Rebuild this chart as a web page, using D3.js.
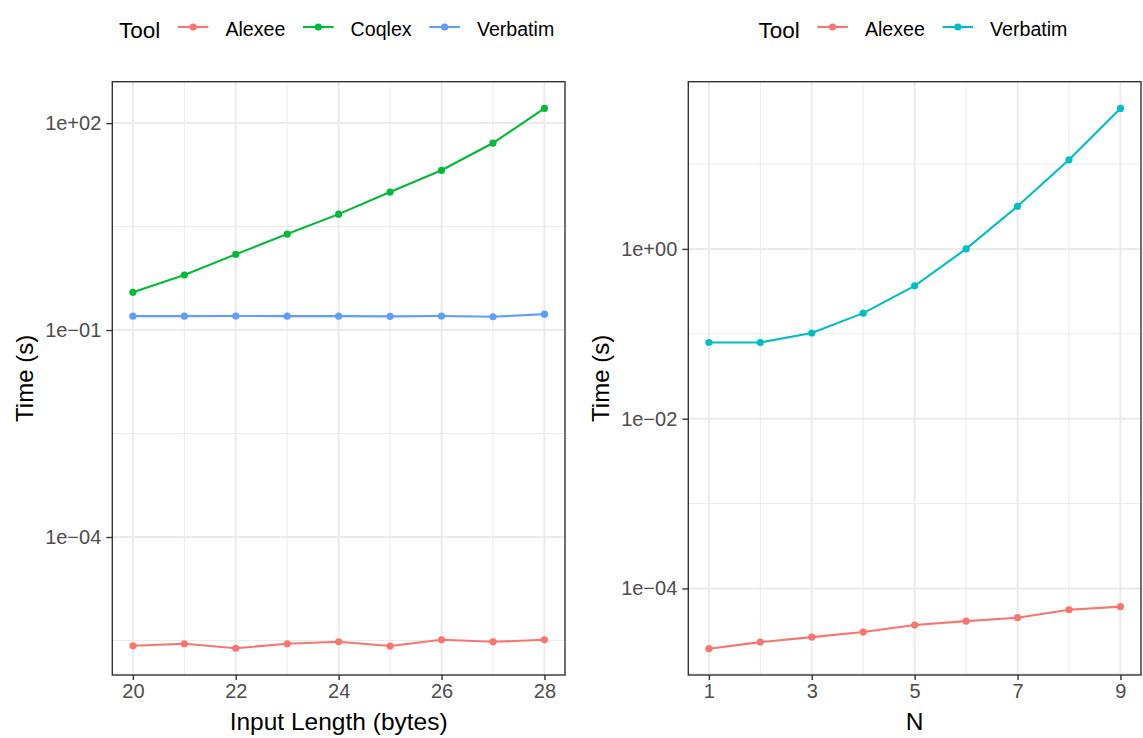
<!DOCTYPE html>
<html>
<head>
<meta charset="utf-8">
<script src="https://cdn.jsdelivr.net/npm/d3@7"></script>
<style>
  html, body { margin: 0; padding: 0; background: #fff; }
  svg { display: block; font-family: "Liberation Sans", Arial, Helvetica, sans-serif; }
</style>
</head>
<body>
<svg id="chart" width="1143" height="738"></svg>
<script>
// ---------- Data ----------
const leftX = [20, 21, 22, 23, 24, 25, 26, 27, 28];
const leftAlexee   = [2.65e-6, 2.84e-6, 2.44e-6, 2.84e-6, 3.03e-6, 2.63e-6, 3.24e-6, 3.03e-6, 3.24e-6];
const leftCoqlex   = [0.353, 0.628, 1.25, 2.46, 4.79, 10.0, 20.7, 51.4, 163];
const leftVerbatim = [0.159, 0.159, 0.160, 0.159, 0.159, 0.158, 0.160, 0.156, 0.170];

const rightX = [1, 2, 3, 4, 5, 6, 7, 8, 9];
const rightAlexee   = [1.95e-5, 2.33e-5, 2.67e-5, 3.06e-5, 3.70e-5, 4.12e-5, 4.52e-5, 5.61e-5, 6.10e-5];
const rightVerbatim = [0.079, 0.079, 0.102, 0.175, 0.367, 1.0, 3.18, 11.2, 45.2];

const leftXTicks = [20, 22, 24, 26, 28];
const leftXMinor = [21, 23, 25, 27];
const leftYTicks = [1e-4, 1e-1, 1e2];
const leftYTickLabels = ["1e\u221204", "1e\u221201", "1e+02"];
const leftYMinor = [Math.pow(10, -5.5), Math.pow(10, -2.5), Math.pow(10, 0.5)];

const rightXTicks = [1, 3, 5, 7, 9];
const rightXMinor = [2, 4, 6, 8];
const rightYTicks = [1e-4, 1e-2, 1e0];
const rightYTickLabels = ["1e\u221204", "1e\u221202", "1e+00"];
const rightYMinor = [1e-5, 1e-3, 1e-1, 1e1];

const legendTitle = "Tool";
const xTitleLeft = "Input Length (bytes)";
const xTitleRight = "N";
const yTitle = "Time (s)";

const colLeft = {Alexee: "#F8766D", Coqlex: "#00BA38", Verbatim: "#619CFF"};
const colRight = {Alexee: "#F8766D", Verbatim: "#00BFC4"};

// ---------- Drawing ----------
const svg = d3.select("#chart");

function panel(opts) {
  const {x0, x1, y0, y1, xDomain, yDomain, xTicks, xMinor, yTicks, yTickLabels, yMinor,
         series, xTitle, yTitleX, legendX, colors} = opts;
  const x = d3.scaleLinear().domain(xDomain).range([x0, x1]);
  const y = d3.scaleLog().domain(yDomain).range([y1, y0]);
  const g = svg.append("g");

  // minor grid
  g.selectAll(".vminor").data(xMinor).join("line")
    .attr("x1", d => x(d)).attr("x2", d => x(d)).attr("y1", y0).attr("y2", y1)
    .attr("stroke", "#EBEBEB").attr("stroke-width", 1);
  g.selectAll(".hminor").data(yMinor).join("line")
    .attr("y1", d => y(d)).attr("y2", d => y(d)).attr("x1", x0).attr("x2", x1)
    .attr("stroke", "#EBEBEB").attr("stroke-width", 1);
  // major grid
  g.selectAll(".vmajor").data(xTicks).join("line")
    .attr("x1", d => x(d)).attr("x2", d => x(d)).attr("y1", y0).attr("y2", y1)
    .attr("stroke", "#EBEBEB").attr("stroke-width", 2);
  g.selectAll(".hmajor").data(yTicks).join("line")
    .attr("y1", d => y(d)).attr("y2", d => y(d)).attr("x1", x0).attr("x2", x1)
    .attr("stroke", "#EBEBEB").attr("stroke-width", 2);

  // series
  const line = d3.line().x(d => x(d[0])).y(d => y(d[1]));
  series.forEach(s => {
    const pts = s.xs.map((v, i) => [v, s.ys[i]]);
    g.append("path").datum(pts).attr("d", line)
      .attr("fill", "none").attr("stroke", colors[s.name]).attr("stroke-width", 2.1);
    g.selectAll(null).data(pts).join("circle")
      .attr("cx", d => x(d[0])).attr("cy", d => y(d[1])).attr("r", 3.6)
      .attr("fill", colors[s.name]);
  });

  // border
  g.append("rect").attr("x", x0).attr("y", y0).attr("width", x1 - x0).attr("height", y1 - y0)
    .attr("fill", "none").attr("stroke", "#333333").attr("stroke-width", 1.4);

  // x axis
  const xAxis = d3.axisBottom(x).tickValues(xTicks).tickSize(5).tickPadding(4).tickFormat(d3.format("d"));
  const xa = g.append("g").attr("transform", `translate(0,${y1})`).call(xAxis);
  xa.select(".domain").remove();
  xa.selectAll(".tick line").attr("stroke", "#333333").attr("stroke-width", 1.4);
  xa.selectAll(".tick text").attr("fill", "#4D4D4D").attr("font-size", 20)
    .attr("font-family", "Liberation Sans, Arial, sans-serif");

  // y axis
  const yAxis = d3.axisLeft(y).tickValues(yTicks).tickSize(6).tickPadding(5)
    .tickFormat((d, i) => yTickLabels[i]);
  const ya = g.append("g").attr("transform", `translate(${x0},0)`).call(yAxis);
  ya.select(".domain").remove();
  ya.selectAll(".tick line").attr("stroke", "#333333").attr("stroke-width", 1.4);
  ya.selectAll(".tick text").attr("fill", "#4D4D4D").attr("font-size", 20)
    .attr("font-family", "Liberation Sans, Arial, sans-serif");

  // axis titles
  g.append("text").attr("x", (x0 + x1) / 2).attr("y", 730).attr("text-anchor", "middle")
    .attr("font-size", 24.5).attr("fill", "#000").text(xTitle);
  g.append("text").attr("transform", `translate(${yTitleX},${(y0 + y1) / 2}) rotate(-90)`)
    .attr("text-anchor", "middle").attr("font-size", 24).attr("fill", "#000").text(yTitle);

  // legend
  const ly = 27;
  const keyW = 30.6;
  let lx = legendX;
  const t = g.append("text").attr("x", lx).attr("y", 37.5).attr("font-size", 22.5).attr("fill", "#000").text(legendTitle);
  lx += t.node().getComputedTextLength() + 17.5;
  series.forEach(s => {
    g.append("line").attr("x1", lx).attr("x2", lx + keyW).attr("y1", ly).attr("y2", ly)
      .attr("stroke", colors[s.name]).attr("stroke-width", 2.1);
    g.append("circle").attr("cx", lx + keyW / 2).attr("cy", ly).attr("r", 3.6).attr("fill", colors[s.name]);
    const lt = g.append("text").attr("x", lx + keyW + 17).attr("y", 36.3).attr("font-size", 19.6)
      .attr("fill", "#000").text(s.name);
    lx = lx + keyW + 17 + lt.node().getComputedTextLength() + 17.7;
  });
}

panel({
  x0: 112.3, x1: 565, y0: 81.7, y1: 675,
  xDomain: [19.6, 28.4], yDomain: [Math.pow(10, -6.0), Math.pow(10, 2.6)],
  xTicks: leftXTicks, xMinor: leftXMinor, yTicks: leftYTicks, yTickLabels: leftYTickLabels, yMinor: leftYMinor,
  series: [
    {name: "Alexee", xs: leftX, ys: leftAlexee},
    {name: "Coqlex", xs: leftX, ys: leftCoqlex},
    {name: "Verbatim", xs: leftX, ys: leftVerbatim}
  ],
  xTitle: xTitleLeft, yTitleX: 33, legendX: 119, colors: colLeft
});

panel({
  x0: 688.3, x1: 1141, y0: 81.7, y1: 675,
  xDomain: [0.6, 9.4], yDomain: [Math.pow(10, -5.02), Math.pow(10, 1.97)],
  xTicks: rightXTicks, xMinor: rightXMinor, yTicks: rightYTicks, yTickLabels: rightYTickLabels, yMinor: rightYMinor,
  series: [
    {name: "Alexee", xs: rightX, ys: rightAlexee},
    {name: "Verbatim", xs: rightX, ys: rightVerbatim}
  ],
  xTitle: xTitleRight, yTitleX: 608.5, legendX: 758.5, colors: colRight
});
</script>
</body>
</html>
